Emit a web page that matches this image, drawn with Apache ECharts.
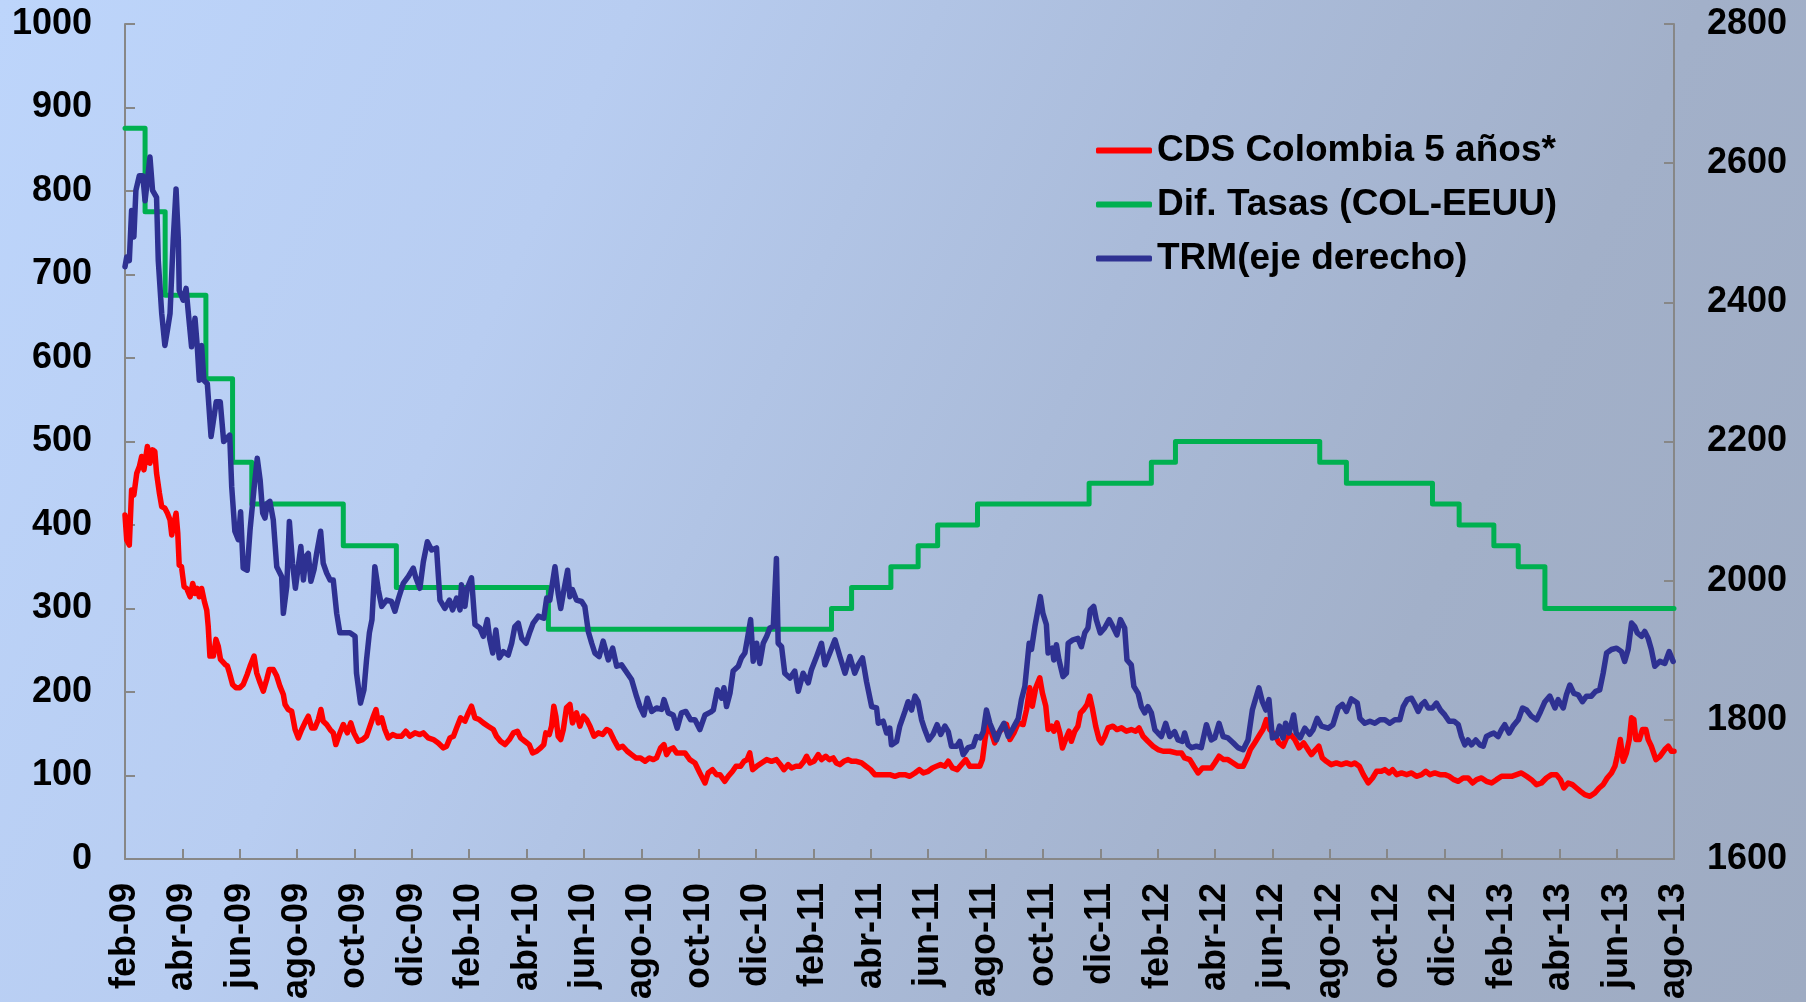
<!DOCTYPE html>
<html>
<head>
<meta charset="utf-8">
<script src="https://cdn.jsdelivr.net/npm/echarts@6/dist/echarts.min.js"></script>
<style>
  html, body { margin: 0; padding: 0; }
  body {
    width: 1806px; height: 1002px; overflow: hidden;
    background: linear-gradient(115deg, #BDD5FB 0%, #B8CDF1 28%, #AABBD9 55%, #A2B0C9 75%, #9EABC2 100%);
  }
  #main { width: 1806px; height: 1002px; }
</style>
</head>
<body>
<div id="main"></div>
<script>
  // eje x: meses desde feb-09 (0) hasta ago-13 (54)
  var monthLabels = ['feb-09', 'abr-09', 'jun-09', 'ago-09', 'oct-09', 'dic-09',
    'feb-10', 'abr-10', 'jun-10', 'ago-10', 'oct-10', 'dic-10',
    'feb-11', 'abr-11', 'jun-11', 'ago-11', 'oct-11', 'dic-11',
    'feb-12', 'abr-12', 'jun-12', 'ago-12', 'oct-12', 'dic-12',
    'feb-13', 'abr-13', 'jun-13', 'ago-13']

  var seriesNames = ['CDS Colombia 5 años*', 'Dif. Tasas (COL-EEUU)', 'TRM(eje derecho)']

  // Dif. Tasas: [mes, pb] en cada cambio de tasa
  var difSteps = [[0, 875], [0.70, 775], [1.40, 675], [2.82, 575], [3.75, 475], [4.42, 425],
    [7.61, 375], [9.46, 325], [14.76, 275], [24.63, 300], [25.33, 325], [26.70, 350],
    [27.65, 375], [28.33, 400], [29.72, 425], [33.61, 450], [35.78, 475], [36.62, 500],
    [41.65, 475], [42.58, 450], [45.58, 425], [46.51, 400], [47.72, 375], [48.57, 350],
    [49.50, 300], [54, 300]]

  // CDS Colombia 5 años: [mes, pb]
  var cdsData = [[0, 412], [0.06, 382], [0.15, 376], [0.23, 442], [0.31, 436], [0.41, 462], [0.50, 470],
    [0.58, 482], [0.66, 466], [0.78, 494], [0.87, 474], [0.96, 490], [1.04, 488], [1.10, 462],
    [1.20, 438], [1.28, 422], [1.39, 420], [1.48, 414], [1.57, 406], [1.63, 388], [1.68, 398],
    [1.78, 414], [1.84, 390], [1.89, 352], [1.97, 350], [2.06, 326], [2.15, 324], [2.27, 314],
    [2.36, 330], [2.44, 318], [2.52, 324], [2.59, 314], [2.67, 324], [2.77, 308], [2.85, 298],
    [2.90, 279], [2.96, 243], [3.08, 243], [3.17, 263], [3.25, 255], [3.33, 239], [3.49, 233],
    [3.57, 231], [3.64, 223], [3.75, 209], [3.87, 205], [4.0, 205], [4.12, 209], [4.26, 221],
    [4.36, 231], [4.5, 243], [4.59, 223], [4.71, 211], [4.82, 201], [4.94, 215], [5.03, 227],
    [5.17, 227], [5.29, 219], [5.4, 207], [5.52, 197], [5.58, 185], [5.69, 179], [5.81, 177],
    [5.93, 155], [6.04, 145], [6.16, 155], [6.27, 163], [6.39, 171], [6.51, 157], [6.62, 157],
    [6.74, 167], [6.83, 179], [6.91, 165], [7.03, 161], [7.15, 155], [7.26, 151], [7.35, 137],
    [7.47, 149], [7.61, 161], [7.75, 151], [7.87, 163], [7.98, 151], [8.13, 141], [8.28, 143],
    [8.42, 147], [8.54, 159], [8.66, 171], [8.75, 179], [8.83, 163], [8.95, 169], [9.06, 155],
    [9.18, 145], [9.33, 149], [9.47, 147], [9.64, 147], [9.79, 153], [9.93, 147], [10.11, 151],
    [10.28, 149], [10.40, 151], [10.57, 145], [10.75, 143], [10.92, 139], [11.1, 133], [11.21, 135],
    [11.33, 145], [11.45, 147], [11.56, 157], [11.70, 169], [11.85, 165], [11.97, 175], [12.08, 183],
    [12.20, 169], [12.35, 167], [12.49, 163], [12.66, 159], [12.84, 155], [12.95, 147], [13.09, 141],
    [13.25, 137], [13.40, 143], [13.54, 151], [13.68, 153], [13.79, 145], [13.94, 141], [14.09, 137],
    [14.21, 127], [14.35, 129], [14.49, 133], [14.60, 137], [14.67, 151], [14.79, 149], [14.87, 159],
    [14.95, 183], [15.02, 171], [15.1, 147], [15.19, 143], [15.28, 155], [15.39, 181], [15.51, 185],
    [15.60, 163], [15.74, 175], [15.86, 159], [15.98, 171], [16.09, 167], [16.21, 159], [16.35, 147],
    [16.5, 151], [16.65, 149], [16.79, 155], [16.90, 153], [17.04, 143], [17.20, 133], [17.35, 135],
    [17.51, 129], [17.66, 125], [17.81, 121], [17.97, 121], [18.13, 117], [18.28, 121], [18.42, 119],
    [18.53, 121], [18.67, 133], [18.79, 137], [18.88, 125], [18.99, 131], [19.11, 133], [19.23, 127],
    [19.40, 127], [19.52, 127], [19.69, 119], [19.87, 115], [20.04, 103], [20.22, 91], [20.33, 103],
    [20.48, 107], [20.62, 101], [20.74, 101], [20.91, 93], [21.03, 99], [21.18, 105], [21.30, 111],
    [21.46, 111], [21.58, 117], [21.69, 119], [21.78, 127], [21.88, 107], [22.02, 111], [22.19, 115],
    [22.37, 119], [22.54, 117], [22.71, 119], [22.85, 113], [22.97, 107], [23.12, 113], [23.24, 109],
    [23.39, 111], [23.53, 111], [23.67, 117], [23.76, 123], [23.88, 115], [24.02, 117], [24.17, 125],
    [24.28, 119], [24.43, 123], [24.55, 119], [24.69, 121], [24.80, 115], [24.92, 113], [25.06, 117],
    [25.21, 119], [25.33, 117], [25.5, 117], [25.68, 115], [25.83, 111], [25.99, 107], [26.14, 101],
    [26.32, 101], [26.49, 101], [26.66, 101], [26.84, 99], [27.01, 101], [27.19, 101], [27.36, 99],
    [27.54, 103], [27.69, 107], [27.83, 103], [28.0, 105], [28.15, 109], [28.29, 111], [28.43, 113],
    [28.58, 111], [28.7, 117], [28.85, 109], [29.01, 107], [29.16, 113], [29.31, 119], [29.45, 111],
    [29.63, 111], [29.80, 111], [29.89, 119], [29.98, 143], [30.06, 159], [30.21, 151], [30.32, 139],
    [30.44, 151], [30.56, 155], [30.73, 161], [30.85, 143], [30.99, 151], [31.14, 163], [31.31, 161],
    [31.43, 179], [31.54, 205], [31.63, 183], [31.75, 205], [31.89, 217], [31.98, 199], [32.1, 183],
    [32.18, 155], [32.30, 159], [32.38, 153], [32.49, 163], [32.59, 151], [32.68, 133], [32.79, 143],
    [32.91, 153], [32.99, 141], [33.11, 153], [33.22, 159], [33.31, 175], [33.42, 179], [33.54, 185],
    [33.63, 195], [33.72, 181], [33.84, 159], [33.96, 143], [34.04, 139], [34.16, 147], [34.27, 157],
    [34.44, 159], [34.58, 155], [34.74, 157], [34.91, 153], [35.08, 155], [35.23, 153], [35.35, 157],
    [35.49, 147], [35.66, 141], [35.84, 135], [36.01, 131], [36.19, 129], [36.42, 129], [36.65, 127],
    [36.83, 127], [36.94, 121], [37.12, 119], [37.26, 111], [37.41, 103], [37.56, 109], [37.7, 109],
    [37.87, 109], [37.99, 115], [38.14, 123], [38.30, 119], [38.45, 119], [38.63, 115], [38.80, 111],
    [38.98, 111], [39.12, 121], [39.23, 131], [39.38, 139], [39.56, 149], [39.67, 155], [39.79, 167],
    [39.91, 155], [40.08, 149], [40.23, 139], [40.37, 135], [40.49, 145], [40.63, 149], [40.78, 143],
    [40.93, 133], [41.09, 139], [41.24, 131], [41.36, 125], [41.51, 131], [41.62, 135], [41.74, 121],
    [41.88, 117], [42.05, 113], [42.23, 115], [42.40, 113], [42.58, 115], [42.75, 113], [42.87, 115],
    [43.03, 111], [43.17, 101], [43.34, 91], [43.49, 97], [43.63, 105], [43.80, 105], [43.92, 107],
    [44.07, 103], [44.19, 107], [44.33, 101], [44.5, 103], [44.68, 101], [44.85, 103], [45.02, 99],
    [45.2, 101], [45.35, 105], [45.49, 101], [45.66, 103], [45.84, 101], [46.01, 101], [46.16, 99],
    [46.33, 95], [46.48, 93], [46.65, 97], [46.82, 97], [46.98, 91], [47.12, 95], [47.29, 97],
    [47.46, 93], [47.64, 91], [47.81, 95], [47.99, 99], [48.16, 99], [48.34, 99], [48.51, 101],
    [48.68, 103], [48.86, 99], [49.03, 95], [49.21, 89], [49.38, 91], [49.55, 97], [49.73, 101],
    [49.9, 101], [50.04, 95], [50.16, 85], [50.31, 91], [50.46, 89], [50.60, 85], [50.74, 81],
    [50.89, 77], [51.07, 75], [51.24, 79], [51.39, 85], [51.53, 89], [51.67, 97], [51.82, 103],
    [51.94, 111], [52.02, 123], [52.13, 143], [52.23, 117], [52.34, 127], [52.44, 143], [52.52, 169],
    [52.60, 167], [52.67, 143], [52.79, 143], [52.9, 155], [53.02, 155], [53.1, 143], [53.21, 135],
    [53.37, 119], [53.51, 123], [53.68, 131], [53.80, 135], [53.91, 129], [54.0, 129]]

  // TRM (eje derecho): [mes, pesos por dólar]
  var trmData = [[0, 2451], [0.06, 2465], [0.15, 2460], [0.23, 2532], [0.31, 2494], [0.38, 2561],
    [0.5, 2582], [0.62, 2582], [0.70, 2546], [0.78, 2575], [0.87, 2609], [0.96, 2561], [1.10, 2551],
    [1.16, 2460], [1.28, 2384], [1.39, 2338], [1.48, 2360], [1.57, 2384], [1.68, 2489], [1.78, 2563],
    [1.86, 2489], [1.89, 2417], [2.03, 2403], [2.13, 2420], [2.21, 2384], [2.32, 2336], [2.44, 2377],
    [2.52, 2336], [2.59, 2288], [2.67, 2338], [2.75, 2288], [2.87, 2283], [3.0, 2207], [3.18, 2257],
    [3.32, 2257], [3.44, 2200], [3.65, 2209], [3.72, 2135], [3.83, 2071], [3.95, 2059], [4.03, 2099],
    [4.12, 2018], [4.26, 2015], [4.36, 2073], [4.50, 2133], [4.61, 2176], [4.71, 2145], [4.80, 2097],
    [4.88, 2090], [4.96, 2111], [5.05, 2114], [5.17, 2087], [5.29, 2020], [5.46, 2006], [5.52, 1953],
    [5.64, 1992], [5.73, 2085], [5.84, 2025], [5.94, 1989], [6.04, 2020], [6.13, 2049], [6.22, 2001],
    [6.31, 2035], [6.39, 2039], [6.48, 1999], [6.59, 2016], [6.68, 2039], [6.82, 2071], [6.91, 2025],
    [7.03, 2011], [7.15, 2001], [7.26, 2001], [7.38, 1953], [7.49, 1925], [7.67, 1925], [7.84, 1925],
    [8.02, 1920], [8.07, 1867], [8.21, 1824], [8.33, 1843], [8.42, 1886], [8.52, 1925], [8.61, 1944],
    [8.71, 2020], [8.83, 1987], [8.95, 1963], [9.12, 1972], [9.29, 1970], [9.41, 1956], [9.53, 1974],
    [9.70, 1996], [9.88, 2006], [10.05, 2018], [10.14, 2004], [10.28, 1989], [10.40, 2027], [10.54, 2056],
    [10.69, 2044], [10.86, 2047], [10.98, 1972], [11.15, 1960], [11.31, 1972], [11.42, 1958], [11.56, 1975],
    [11.68, 1958], [11.73, 1994], [11.85, 1963], [11.93, 1989], [12.08, 2004], [12.20, 1937], [12.37, 1932],
    [12.49, 1920], [12.63, 1944], [12.72, 1915], [12.82, 1896], [12.93, 1929], [13.05, 1889], [13.19, 1898],
    [13.36, 1893], [13.48, 1910], [13.59, 1934], [13.71, 1939], [13.83, 1917], [13.98, 1910], [14.12, 1927],
    [14.23, 1939], [14.41, 1949], [14.6, 1946], [14.70, 1975], [14.81, 1972], [14.99, 2020], [15.10, 1982],
    [15.19, 1960], [15.28, 1982], [15.43, 2015], [15.51, 1977], [15.60, 1987], [15.74, 1972], [15.92, 1970],
    [16.03, 1963], [16.15, 1927], [16.27, 1910], [16.38, 1896], [16.53, 1891], [16.67, 1913], [16.85, 1886],
    [17.0, 1903], [17.14, 1877], [17.31, 1879], [17.51, 1867], [17.66, 1858], [17.83, 1834], [17.95, 1819],
    [18.09, 1807], [18.21, 1831], [18.36, 1812], [18.53, 1817], [18.71, 1815], [18.79, 1829], [18.94, 1810],
    [19.11, 1807], [19.25, 1788], [19.40, 1810], [19.55, 1812], [19.72, 1800], [19.87, 1800], [20.04, 1786],
    [20.22, 1807], [20.41, 1811], [20.51, 1814], [20.65, 1843], [20.80, 1831], [20.88, 1846], [20.97, 1819],
    [21.09, 1838], [21.20, 1870], [21.38, 1877], [21.49, 1889], [21.61, 1896], [21.70, 1917], [21.81, 1944],
    [21.90, 1884], [22.02, 1910], [22.13, 1881], [22.25, 1910], [22.37, 1920], [22.48, 1932], [22.6, 1934],
    [22.71, 2032], [22.77, 1910], [22.89, 1905], [23.0, 1867], [23.18, 1860], [23.35, 1870], [23.47, 1841],
    [23.64, 1867], [23.82, 1853], [23.93, 1872], [24.11, 1891], [24.28, 1910], [24.40, 1879], [24.57, 1896],
    [24.75, 1915], [24.92, 1891], [25.1, 1867], [25.27, 1891], [25.44, 1867], [25.56, 1879], [25.71, 1889],
    [25.85, 1855], [26.03, 1819], [26.2, 1817], [26.26, 1795], [26.43, 1798], [26.55, 1781], [26.66, 1788],
    [26.72, 1764], [26.90, 1769], [27.01, 1791], [27.19, 1812], [27.30, 1826], [27.42, 1814], [27.54, 1834],
    [27.65, 1826], [27.77, 1800], [27.88, 1786], [28.02, 1771], [28.17, 1779], [28.31, 1793], [28.44, 1779],
    [28.58, 1791], [28.70, 1783], [28.81, 1762], [28.99, 1762], [29.1, 1769], [29.22, 1750], [29.39, 1760],
    [29.57, 1762], [29.68, 1776], [29.82, 1774], [29.92, 1783], [30.03, 1814], [30.15, 1795], [30.24, 1786],
    [30.38, 1771], [30.52, 1786], [30.64, 1795], [30.79, 1776], [30.96, 1788], [31.14, 1802], [31.25, 1829],
    [31.37, 1848], [31.52, 1910], [31.60, 1901], [31.72, 1934], [31.91, 1977], [32.0, 1953], [32.12, 1937],
    [32.18, 1896], [32.33, 1903], [32.38, 1886], [32.47, 1908], [32.56, 1886], [32.70, 1862], [32.82, 1867],
    [32.88, 1910], [33.05, 1915], [33.22, 1917], [33.34, 1905], [33.46, 1925], [33.57, 1932], [33.65, 1958],
    [33.77, 1963], [33.86, 1944], [34.0, 1925], [34.15, 1932], [34.31, 1944], [34.44, 1934], [34.58, 1922],
    [34.7, 1944], [34.85, 1932], [34.93, 1886], [35.08, 1879], [35.17, 1848], [35.32, 1838], [35.43, 1819],
    [35.55, 1810], [35.66, 1819], [35.78, 1810], [35.90, 1786], [36.01, 1781], [36.13, 1776], [36.28, 1795],
    [36.42, 1776], [36.59, 1783], [36.71, 1771], [36.86, 1769], [36.94, 1781], [37.06, 1764], [37.18, 1760],
    [37.35, 1762], [37.52, 1760], [37.7, 1793], [37.87, 1771], [37.99, 1774], [38.14, 1795], [38.28, 1776],
    [38.45, 1774], [38.63, 1767], [38.8, 1760], [38.98, 1757], [39.15, 1771], [39.3, 1814], [39.42, 1831],
    [39.53, 1846], [39.65, 1826], [39.77, 1814], [39.88, 1829], [40.0, 1774], [40.14, 1776], [40.25, 1791],
    [40.37, 1774], [40.46, 1795], [40.58, 1781], [40.74, 1807], [40.83, 1781], [40.97, 1774], [41.13, 1788],
    [41.3, 1779], [41.42, 1786], [41.56, 1802], [41.71, 1791], [41.94, 1788], [42.11, 1793], [42.29, 1817],
    [42.44, 1822], [42.58, 1812], [42.75, 1830], [42.82, 1828], [42.96, 1824], [43.05, 1802], [43.22, 1795],
    [43.4, 1798], [43.57, 1795], [43.75, 1800], [43.92, 1800], [44.09, 1795], [44.27, 1800], [44.44, 1800],
    [44.56, 1819], [44.7, 1829], [44.85, 1831], [44.97, 1822], [45.08, 1812], [45.2, 1822], [45.31, 1826],
    [45.43, 1817], [45.58, 1817], [45.72, 1824], [45.86, 1814], [46.01, 1807], [46.16, 1798], [46.33, 1798],
    [46.48, 1793], [46.59, 1776], [46.71, 1764], [46.82, 1771], [46.94, 1764], [47.09, 1771], [47.23, 1764],
    [47.35, 1762], [47.46, 1776], [47.6, 1779], [47.72, 1781], [47.87, 1776], [47.99, 1786], [48.10, 1793],
    [48.25, 1781], [48.39, 1791], [48.57, 1800], [48.72, 1817], [48.86, 1814], [49.03, 1805], [49.21, 1800],
    [49.35, 1812], [49.50, 1826], [49.67, 1834], [49.85, 1817], [49.96, 1829], [50.14, 1817], [50.25, 1836],
    [50.37, 1850], [50.51, 1838], [50.66, 1836], [50.81, 1826], [50.95, 1834], [51.12, 1834], [51.27, 1841],
    [51.41, 1843], [51.53, 1867], [51.65, 1896], [51.82, 1901], [52.0, 1903], [52.17, 1898], [52.28, 1884],
    [52.40, 1901], [52.52, 1939], [52.63, 1934], [52.72, 1925], [52.87, 1920], [52.98, 1927], [53.10, 1917],
    [53.21, 1901], [53.33, 1877], [53.51, 1884], [53.68, 1881], [53.83, 1898], [53.97, 1884]]

  var font = 'Liberation Sans, Arial, sans-serif'
  var axisGray = '#878787'
  var labelStyle = {
    fontSize: 36,
    fontWeight: 'bold',
    color: '#000000',
    fontFamily: font
  }

  var myChart = echarts.init(document.getElementById('main'), null, { renderer: 'canvas' })
  myChart.setOption({
    backgroundColor: 'transparent',
    animation: false,
    color: ['#FF0000', '#00B050', '#2E3192'],
    legend: {
      orient: 'vertical',
      left: 1096,
      top: 132,
      padding: 0,
      icon: 'roundRect',
      itemWidth: 56,
      itemHeight: 6,
      itemGap: 17,
      textStyle: Object.assign({}, labelStyle, { fontSize: 37 }),
      data: seriesNames
    },
    grid: {
      left: 125,
      right: 132,
      top: 24,
      bottom: 142,
      containLabel: false
    },
    xAxis: {
      type: 'value',
      min: 0,
      max: 54,
      interval: 2,
      axisLine: { onZero: false, lineStyle: { color: axisGray, width: 2 } },
      axisTick: { inside: true, length: 10, lineStyle: { color: axisGray, width: 2 } },
      splitLine: { show: false },
      axisLabel: Object.assign({
        rotate: 90,
        margin: 24,
        formatter: function (v) {
          return monthLabels[Math.round(v / 2)]
        }
      }, labelStyle)
    },
    yAxis: [{
      type: 'value',
      min: 0,
      max: 1000,
      interval: 100,
      axisLine: { show: true, lineStyle: { color: axisGray, width: 2 } },
      axisTick: { show: true, inside: true, length: 10, lineStyle: { color: axisGray, width: 2 } },
      splitLine: { show: false },
      axisLabel: Object.assign({ margin: 33, formatter: function (v) { return String(v) } }, labelStyle)
    }, {
      type: 'value',
      position: 'right',
      min: 1600,
      max: 2800,
      interval: 200,
      axisLine: { show: true, lineStyle: { color: axisGray, width: 2 } },
      axisTick: { show: true, inside: true, length: 10, lineStyle: { color: axisGray, width: 2 } },
      splitLine: { show: false },
      axisLabel: Object.assign({ margin: 33, formatter: function (v) { return String(v) } }, labelStyle)
    }],
    series: [{
      name: seriesNames[0],
      type: 'line',
      data: cdsData,
      yAxisIndex: 0,
      symbol: 'none',
      lineStyle: { width: 5.5, cap: 'round', join: 'round' }
    }, {
      name: seriesNames[1],
      type: 'line',
      step: 'end',
      data: difSteps,
      yAxisIndex: 0,
      symbol: 'none',
      lineStyle: { width: 5, cap: 'round', join: 'round' }
    }, {
      name: seriesNames[2],
      type: 'line',
      data: trmData,
      yAxisIndex: 1,
      symbol: 'none',
      lineStyle: { width: 5.5, cap: 'round', join: 'round' }
    }]
  })
</script>
</body>
</html>
